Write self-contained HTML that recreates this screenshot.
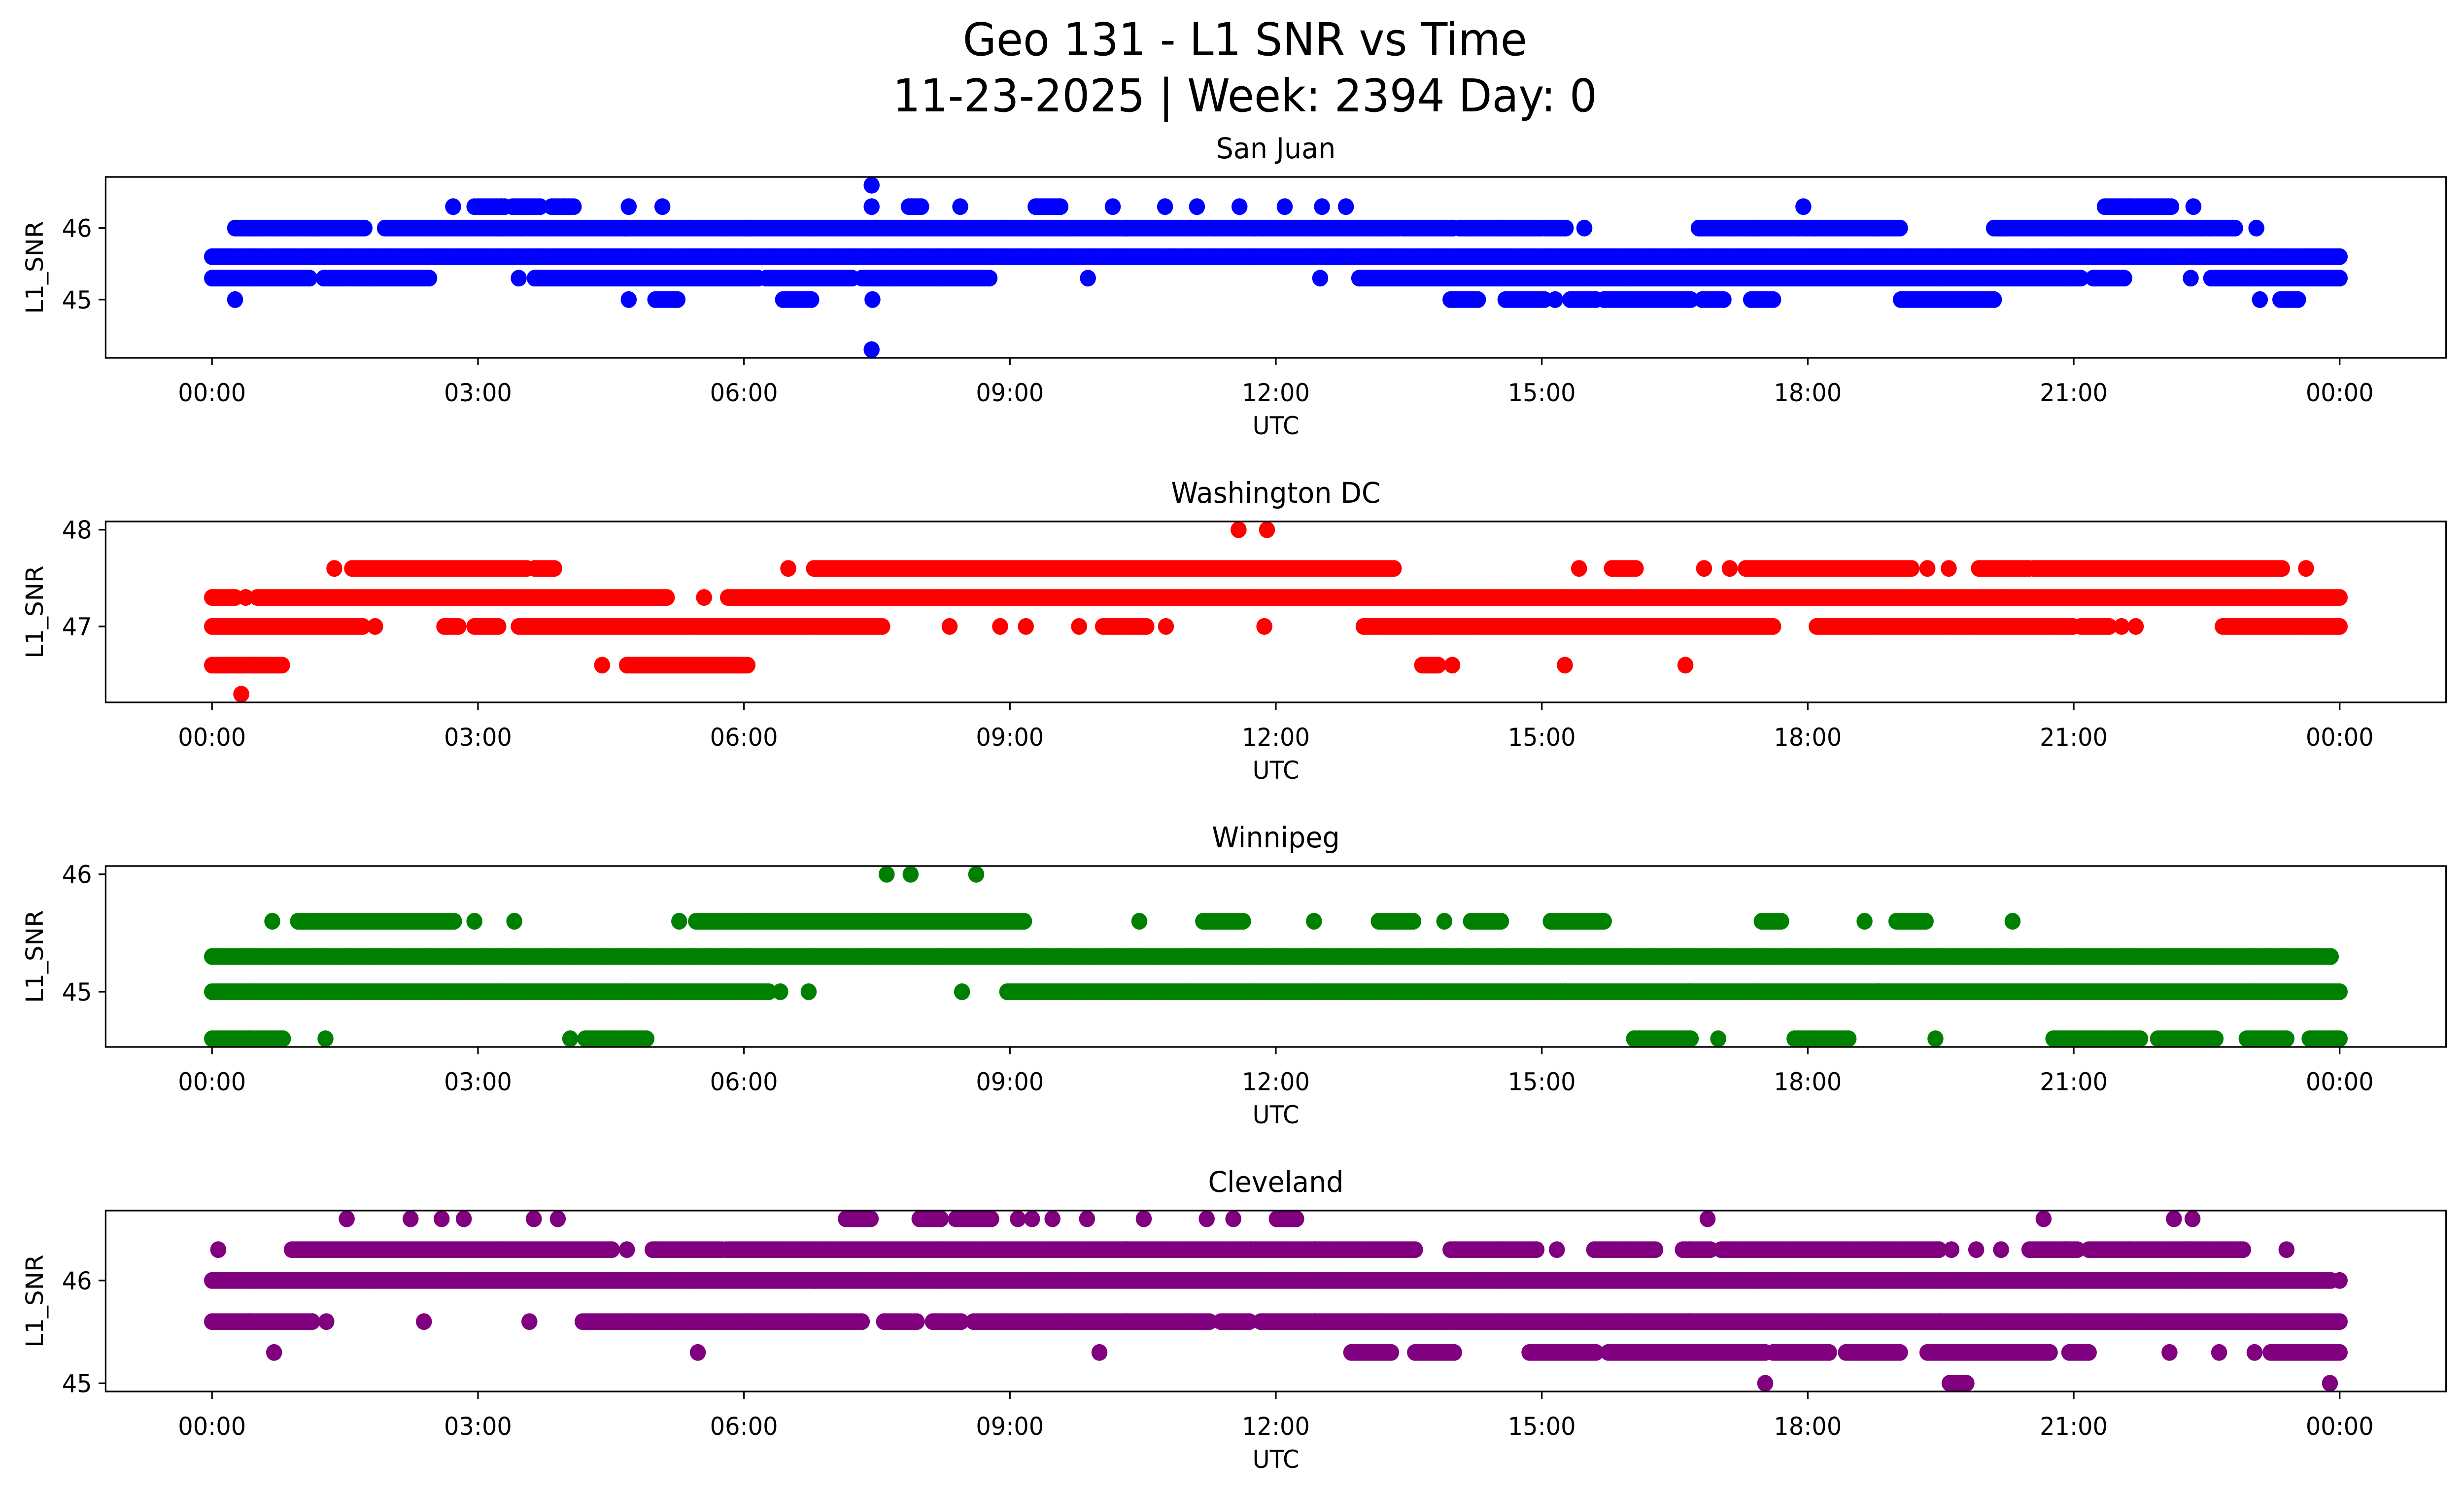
<!DOCTYPE html>
<html><head><meta charset="utf-8"><style>
html,body{margin:0;padding:0;background:#fff;width:100vw;height:100vh;overflow:hidden}
svg{display:block;width:100vw;height:100vh;font-family:"DejaVu Sans","Liberation Sans",sans-serif}
</style></head><body>
<svg id="fig" xmlns="http://www.w3.org/2000/svg" viewBox="0 0 5225 3033" preserveAspectRatio="none">
<rect x="0" y="0" width="5225" height="3033" fill="#fff"/>
<text x="2640" y="112" font-size="92" text-anchor="middle">Geo 131 - L1 SNR vs Time</text>
<text x="2640" y="226" font-size="92" text-anchor="middle">11-23-2025 | Week: 2394 Day: 0</text>
<g id="panels"></g>
</svg>
<script>
// ---- data: SNR levels and time runs (hours UTC) per level ----
const stations = ["San Juan", "Washington DC", "Winnipeg", "Cleveland"];
const colors = ["#0000ff", "#ff0000", "#008000", "#800080"];
const xTickLabels = ["00:00","03:00","06:00","09:00","12:00","15:00","18:00","21:00","00:00"];
const xTickHours = [0,3,6,9,12,15,18,21,24];
const yTicks = [[45,46],[47,48],[45,46],[45,46]];

const sanJuanLevels = [46.6, 46.3, 46, 45.6, 45.3, 45, 44.3];
const sanJuanRuns = [
  [[7.44,7.44]],
  [[2.72,2.72],[2.96,3.3],[3.39,3.7],[3.83,4.08],[4.7,4.7],[5.08,5.08],[7.44,7.44],[7.86,8.0],[8.44,8.44],[9.29,9.57],[10.16,10.16],[10.75,10.75],[11.11,11.11],[11.59,11.59],[12.1,12.1],[12.52,12.52],[12.79,12.79],[17.95,17.95],[21.35,22.1],[22.35,22.35]],
  [[0.26,1.72],[1.95,13.39],[13.43,14.0],[14.07,14.99],[15.03,15.27],[15.48,15.48],[16.77,19.04],[20.1,22.82],[23.06,23.06]],
  [[0,24]],
  [[0,1.1],[1.26,1.54],[1.58,2.45],[3.46,3.46],[3.64,6.16],[6.25,7.22],[7.33,7.65],[7.67,8.77],[9.88,9.88],[12.5,12.5],[12.94,21.08],[21.22,21.57],[22.32,22.32],[22.55,24]],
  [[0.26,0.26],[4.7,4.7],[5.0,5.25],[6.44,6.76],[7.45,7.45],[13.97,14.28],[14.59,15.03],[15.15,15.15],[15.32,15.61],[15.7,16.68],[16.81,17.05],[17.36,17.61],[19.05,20.1],[23.1,23.1],[23.33,23.53]],
  [[7.44,7.44]]
];

const washingtonLevels = [48, 47.6, 47.3, 47, 46.6, 46.3];
const washingtonRuns = [
  [[11.58,11.58],[11.9,11.9]],
  [[1.38,1.38],[1.58,3.55],[3.64,3.86],[6.5,6.5],[6.79,13.33],[15.42,15.42],[15.79,16.06],[16.83,16.83],[17.12,17.12],[17.3,19.17],[19.35,19.35],[19.59,19.59],[19.93,20.5],[20.55,23.35],[23.62,23.62]],
  [[0,0.26],[0.38,0.38],[0.51,5.13],[5.55,5.55],[5.82,24]],
  [[0,1.7],[1.84,1.84],[2.62,2.78],[2.96,3.23],[3.46,7.56],[8.32,8.32],[8.89,8.89],[9.18,9.18],[9.78,9.78],[10.05,10.54],[10.76,10.76],[11.87,11.87],[12.99,17.61],[18.1,20.99],[21.08,21.4],[21.54,21.54],[21.7,21.7],[22.68,24]],
  [[0,0.79],[4.4,4.4],[4.68,6.04],[13.65,13.83],[13.99,13.99],[15.26,15.26],[16.62,16.62]],
  [[0.33,0.33]]
];

const winnipegLevels = [46, 45.6, 45.3, 45, 44.6];
const winnipegRuns = [
  [[7.61,7.61],[7.88,7.88],[8.62,8.62]],
  [[0.68,0.68],[0.97,2.73],[2.96,2.96],[3.41,3.41],[5.27,5.27],[5.46,9.16],[10.46,10.46],[11.18,11.63],[12.43,12.43],[13.16,13.55],[13.9,13.9],[14.2,14.54],[15.1,15.7],[17.48,17.7],[18.64,18.64],[19.0,19.33],[20.31,20.31]],
  [[0,23.9]],
  [[0,6.28],[6.41,6.41],[6.73,6.73],[8.46,8.46],[8.97,24]],
  [[0,0.8],[1.28,1.28],[4.04,4.04],[4.21,4.9],[16.04,16.68],[16.99,16.99],[17.85,18.46],[19.44,19.44],[20.77,21.75],[21.95,22.6],[22.95,23.4],[23.66,24]]
];

const clevelandLevels = [46.6, 46.3, 46, 45.6, 45.3, 45];
const clevelandRuns = [
  [[1.52,1.52],[2.24,2.24],[2.59,2.59],[2.84,2.84],[3.63,3.63],[3.9,3.9],[7.15,7.43],[7.98,8.22],[8.39,8.79],[9.09,9.09],[9.25,9.25],[9.48,9.48],[9.87,9.87],[10.51,10.51],[11.22,11.22],[11.52,11.52],[12.01,12.23],[16.87,16.87],[20.66,20.66],[22.13,22.13],[22.34,22.34]],
  [[0.07,0.07],[0.9,4.51],[4.68,4.68],[4.97,5.75],[5.8,13.57],[13.97,14.94],[15.17,15.17],[15.59,16.28],[16.59,16.9],[17.02,19.48],[19.62,19.62],[19.9,19.9],[20.18,20.18],[20.5,21.04],[21.17,22.91],[23.4,23.4]],
  [[0,23.9],[24,24]],
  [[0,1.13],[1.29,1.29],[2.39,2.39],[3.58,3.58],[4.18,7.33],[7.58,7.95],[8.13,8.45],[8.59,11.25],[11.38,11.7],[11.83,24]],
  [[0.7,0.7],[5.48,5.48],[10.01,10.01],[12.85,13.3],[13.57,14.01],[14.86,15.61],[15.75,17.52],[17.61,18.24],[18.43,19.04],[19.35,20.73],[20.95,21.17],[22.08,22.08],[22.64,22.64],[23.04,23.04],[23.22,24]],
  [[17.52,17.52],[19.6,19.79],[23.89,23.89]]
];

const allLevels = [sanJuanLevels, washingtonLevels, winnipegLevels, clevelandLevels];
const allRuns = [sanJuanRuns, washingtonRuns, winnipegRuns, clevelandRuns];

// ---- layout ----
const NS = "http://www.w3.org/2000/svg";
const AX_L = 224, AX_R = 5187, AX_H = 367;
const panelTops = [359, 1058, 1757, 2456];
const xMin = -1.2, xMax = 25.2;
function xScale(h){ return AX_L + (h - xMin) / (xMax - xMin) * (AX_R - AX_L); }
function mk(tag, attrs){ const e = document.createElementNS(NS, tag); for (const k in attrs) e.setAttribute(k, attrs[k]); return e; }

const root = document.getElementById("panels");
for (let p = 0; p < 4; p++) {
  const top = panelTops[p], bot = top + AX_H;
  const lv = allLevels[p];
  const lo = Math.min(...lv), hi = Math.max(...lv), span = hi - lo;
  const yLo = lo - 0.05 * span, yHi = hi + 0.05 * span;
  const yScale = v => bot - (v - yLo) / (yHi - yLo) * AX_H;

  const g = mk("g", {});
  
  
  root.appendChild(g);

  const title = mk("text", {x: (AX_L + AX_R) / 2, y: top - 38, "font-size": 58, "text-anchor": "middle"});
  
  
  title.textContent = stations[p];
  g.appendChild(title);

  const cid = "clip" + p;
  const cp = mk("clipPath", {id: cid});
  cp.appendChild(mk("rect", {x: AX_L, y: top, width: AX_R - AX_L, height: AX_H}));
  g.appendChild(cp);

  const pts = mk("g", {fill: colors[p], "clip-path": "url(#" + cid + ")"});
  
  
  g.appendChild(pts);
  const runs = allRuns[p];
  for (let i = 0; i < lv.length; i++) {
    const cy = yScale(lv[i]);
    for (const r of runs[i]) {
      const n = Math.max(1, Math.round((r[1] - r[0]) / 0.03));
      for (let k = 0; k <= n; k++) {
        const h = r[0] + (r[1] - r[0]) * (n ? k / n : 0);
        const c = mk("circle", {cx: xScale(h).toFixed(1), cy: cy.toFixed(1), r: 17});
        
        
        pts.appendChild(c);
        if (r[0] === r[1]) break;
      }
    }
  }

  const frame = mk("rect", {x: AX_L, y: top, width: AX_R - AX_L, height: AX_H, fill: "none", stroke: "#000", "stroke-width": 3.3});
  
  
  g.appendChild(frame);

  for (let t = 0; t < xTickHours.length; t++) {
    const x = xScale(xTickHours[t]);
    const tk = mk("line", {x1: x, x2: x, y1: bot, y2: bot + 15, stroke: "#000", "stroke-width": 3.3});
    
    
    g.appendChild(tk);
    const tl = mk("text", {x: x, y: bot + 88, "font-size": 50, "text-anchor": "middle"});
    
    
    tl.textContent = xTickLabels[t];
    g.appendChild(tl);
  }
  const xl = mk("text", {x: (AX_L + AX_R) / 2, y: bot + 155, "font-size": 50, "text-anchor": "middle"});
  
  
  xl.textContent = "UTC";
  g.appendChild(xl);

  for (const v of yTicks[p]) {
    const y = yScale(v);
    const tk = mk("line", {x1: AX_L - 15, x2: AX_L, y1: y, y2: y, stroke: "#000", "stroke-width": 3.3});
    
    
    g.appendChild(tk);
    const tl = mk("text", {x: AX_L - 29, y: y + 18, "font-size": 50, "text-anchor": "end"});
    
    
    tl.textContent = String(v);
    g.appendChild(tl);
  }
  const yl = mk("text", {x: 0, y: 0, "font-size": 50, "text-anchor": "middle", transform: "translate(91," + (top + AX_H / 2) + ") rotate(-90)"});
  
  
  yl.textContent = "L1_SNR";
  g.appendChild(yl);
}
</script>
</body></html>
